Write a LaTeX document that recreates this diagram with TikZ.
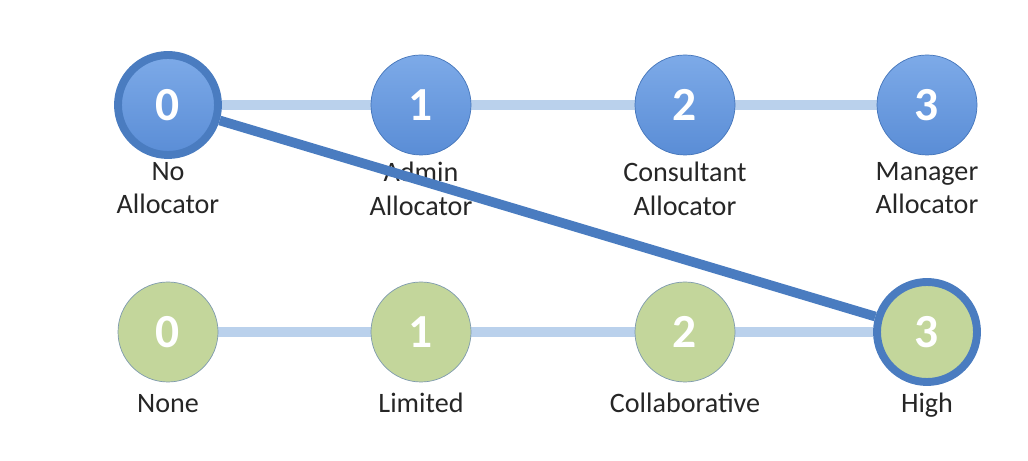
\documentclass[tikz,border=0pt]{standalone}
\usepackage{fontspec}
\setmainfont{Carlito}
\usetikzlibrary{positioning,backgrounds}

\definecolor{roleblue}{HTML}{5A8DD6}
\definecolor{roletop}{HTML}{7DAAE8}
\definecolor{roleedge}{HTML}{4475BA}
\definecolor{levgreen}{HTML}{C3D69B}
\definecolor{levedge}{HTML}{7E9AAE}
\definecolor{trackblue}{HTML}{BAD1EC}
\definecolor{pickblue}{HTML}{4A7CC0}

\begin{document}
\begin{tikzpicture}[
    role/.style={circle, draw=roleedge, thin, top color=roletop, bottom color=roleblue, minimum size=2cm, inner sep=0pt,
        text=white, font=\fontsize{27}{30}\selectfont\bfseries},
    level/.style={circle, draw=levedge, thin, fill=levgreen, minimum size=2cm, inner sep=0pt,
        text=white, font=\fontsize{27}{30}\selectfont\bfseries},
    picked/.style={draw=pickblue, line width=4.5pt},
    lbl/.style={align=center, font=\fontsize{16}{19}\selectfont, text=black!85, inner sep=1pt, execute at begin node=\strut},
    track/.style={trackblue, line width=6pt},
    pick/.style={pickblue, line width=5.5pt}
]
\useasboundingbox (0,0) rectangle (20.56,9.22);

% allocator roles (top row)
\node[role, picked] (a0) at (3.36,7.12) {0};
\node[role] (a1) at (8.42,7.12) {1};
\node[role] (a2) at (13.70,7.12) {2};
\node[role] (a3) at (18.54,7.12) {3};

\node[lbl, below=1.1cm of a0.center] (la0) {No\\Allocator};
\node[lbl, below=1.1cm of a1.center] (la1) {Admin\\Allocator};
\node[lbl, below=1.1cm of a2.center] (la2) {Consultant\\Allocator};
\node[lbl, below=1.1cm of a3.center] (la3) {Manager\\Allocator};

% collaboration levels (bottom row)
\node[level] (b0) at (3.36,2.58) {0};
\node[level] (b1) at (8.42,2.58) {1};
\node[level] (b2) at (13.70,2.58) {2};
\node[level, picked] (b3) at (18.54,2.58) {3};

\node[lbl, below=1.1cm of b0.center] (lb0) {None};
\node[lbl, below=1.1cm of b1.center] (lb1) {Limited};
\node[lbl, below=1.1cm of b2.center] (lb2) {Collaborative};
\node[lbl, below=1.1cm of b3.center] (lb3) {High};

% tracks behind the circles
\begin{scope}[on background layer]
\draw[track] (a0) -- (a1);
\draw[track] (a1) -- (a2);
\draw[track] (a2) -- (a3);
\draw[track] (b0) -- (b1);
\draw[track] (b1) -- (b2);
\draw[track] (b2) -- (b3);
\end{scope}

% chosen pairing
\draw[pick] (a0) -- (b3);

\end{tikzpicture}
\end{document}
